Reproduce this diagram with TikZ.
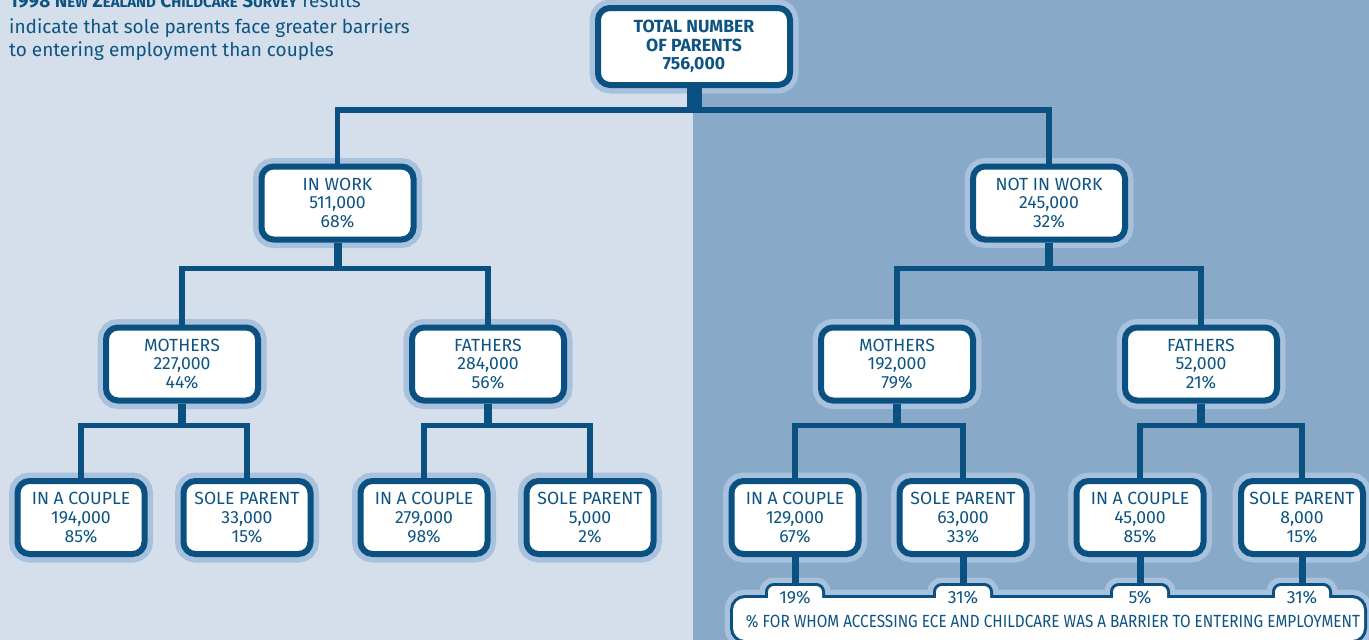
\documentclass[tikz,border=0pt]{standalone}
\usepackage{fontspec}
\setmainfont{Fira Sans}
\usepackage{graphicx}
\definecolor{bgL}{RGB}{213,223,235}
\definecolor{bgR}{RGB}{137,169,201}
\definecolor{dk}{RGB}{10,80,128}
\definecolor{txt}{RGB}{14,84,130}
\definecolor{halo}{RGB}{168,193,220}
\newcommand\boxfont{\fontsize{17.6}{18.6}\selectfont}
\newcommand\mysc[1]{{\fontsize{15}{15}\selectfont #1}}
\begin{document}
\begin{tikzpicture}[x=1pt,y=-1pt,
  box/.style={draw=dk, line width=6pt, fill=white, rounded corners=12pt,
    preaction={draw=halo, line width=17pt},
    minimum width=152pt, minimum height=73pt, inner sep=0pt, outer sep=3pt,
    align=center, text=txt, font=\boxfont},
  topbox/.style={box, minimum width=192pt, minimum height=77pt, font=\boxfont\bfseries},
  smallbox/.style={box, minimum width=127pt},
  conn/.style={draw=dk, line width=5.5pt, line join=miter},
  stem/.style={draw=dk, line width=8pt},
  tabtxt/.style={inner sep=0pt, outer sep=0pt, minimum height=30pt, text=txt, font=\boxfont},
  tl/.style={anchor=base west, inner sep=0pt, text=txt, font=\fontsize{19}{23}\selectfont}]
\useasboundingbox (0,0) rectangle (1369,640);
\clip (0,0) rectangle (1369,640);
% backgrounds
\fill[bgL] (0,0) rectangle (693,640);
\fill[bgR] (693,0) rectangle (1369,640);

% intro text
\node[tl] (l1) at (9,7.5) {\textbf{1998 N\mysc{EW} Z\mysc{EALAND} C\mysc{HILDCARE} S\mysc{URVEY}} results};
\node[tl] (l2) at (9,33.3) {indicate that sole parents face greater barriers};
\node[tl] (l3) at (9,56.7) {to entering employment than couples};

% tree boxes
\node[topbox] (top) at (694,46.5) {TOTAL NUMBER\\OF PARENTS\\756,000};
\node[box] (inw) at (337.5,203) {IN WORK\\511,000\\68\%};
\node[box] (nin) at (1049,203) {NOT IN WORK\\245,000\\32\%};
\node[box] (mL) at (182,364) {MOTHERS\\227,000\\44\%};
\node[box] (fL) at (488,364) {FATHERS\\284,000\\56\%};
\node[box] (mR) at (897,364) {MOTHERS\\192,000\\79\%};
\node[box] (fR) at (1201,364) {FATHERS\\52,000\\21\%};
\node[smallbox] (b1) at (81,517.5) {IN A COUPLE\\194,000\\85\%};
\node[smallbox] (b2) at (247,517.5) {SOLE PARENT\\33,000\\15\%};
\node[smallbox] (b3) at (424,517.5) {IN A COUPLE\\279,000\\98\%};
\node[smallbox] (b4) at (590,517.5) {SOLE PARENT\\5,000\\2\%};
\node[smallbox] (b5) at (795,517.5) {IN A COUPLE\\129,000\\67\%};
\node[smallbox] (b6) at (963,517.5) {SOLE PARENT\\63,000\\33\%};
\node[smallbox] (b7) at (1140,517.5) {IN A COUPLE\\45,000\\85\%};
\node[smallbox, minimum width=122pt] (b8) at (1302,517.5) {SOLE PARENT\\8,000\\15\%};

% barrier box with tabs (union outline)
\foreach \c in {795,963,1140,1302} \draw[halo, line width=17pt, rounded corners=6pt] (\c-27,586) rectangle (\c+27,606);
\draw[halo, line width=17pt, rounded corners=12pt] (733,598) rectangle (1364,640);
\foreach \c in {795,963,1140,1302} \draw[dk, line width=6pt, rounded corners=6pt] (\c-27,586) rectangle (\c+27,606);
\draw[dk, line width=6pt, rounded corners=12pt] (733,598) rectangle (1364,640);
\foreach \c in {795,963,1140,1302} \fill[white, rounded corners=6pt] (\c-27,586) rectangle (\c+27,606);
\fill[white, rounded corners=12pt] (733,598) rectangle (1364,640);

\node[tabtxt] (t1) at (795,598) {19\%};
\node[tabtxt] (t2) at (963,598) {31\%};
\node[tabtxt] (t3) at (1140,598) {5\%};
\node[tabtxt] (t4) at (1302,598) {31\%};
\node[inner sep=0pt, text=txt, font=\boxfont] (note) at (1053,622)
  {\resizebox{614pt}{\height}{\% FOR WHOM ACCESSING ECE AND CHILDCARE WAS A BARRIER TO ENTERING EMPLOYMENT}};

% connectors
\coordinate (h0) at (694,110);
\coordinate (h1) at (0,268.5);
\coordinate (h2) at (0,425.5);
\draw[dk, line width=15pt] (top.south) -- (top.south |- h0);
\draw[conn] (inw.north) |- (nin.north |- h0) -- (nin.north);

\draw[stem] (inw.south) -- (inw.south |- h1);
\draw[conn] (mL.north) |- (fL.north |- h1) -- (fL.north);
\draw[stem] (nin.south) -- (nin.south |- h1);
\draw[conn] (mR.north) |- (fR.north |- h1) -- (fR.north);

\draw[stem] (mL.south) -- (mL.south |- h2);
\draw[conn] (b1.north) |- (b2.north |- h2) -- (b2.north);
\draw[stem] (fL.south) -- (fL.south |- h2);
\draw[conn] (b3.north) |- (b4.north |- h2) -- (b4.north);
\draw[stem] (mR.south) -- (mR.south |- h2);
\draw[conn] (b5.north) |- (b6.north |- h2) -- (b6.north);
\draw[stem] (fR.south) -- (fR.south |- h2);
\draw[conn] (b7.north) |- (b8.north |- h2) -- (b8.north);

\draw[dk, line width=7pt] (b5.south) -- (t1.north);
\draw[dk, line width=7pt] (b6.south) -- (t2.north);
\draw[dk, line width=7pt] (b7.south) -- (t3.north);
\draw[dk, line width=7pt] (b8.south) -- (t4.north);
\end{tikzpicture}
\end{document}
